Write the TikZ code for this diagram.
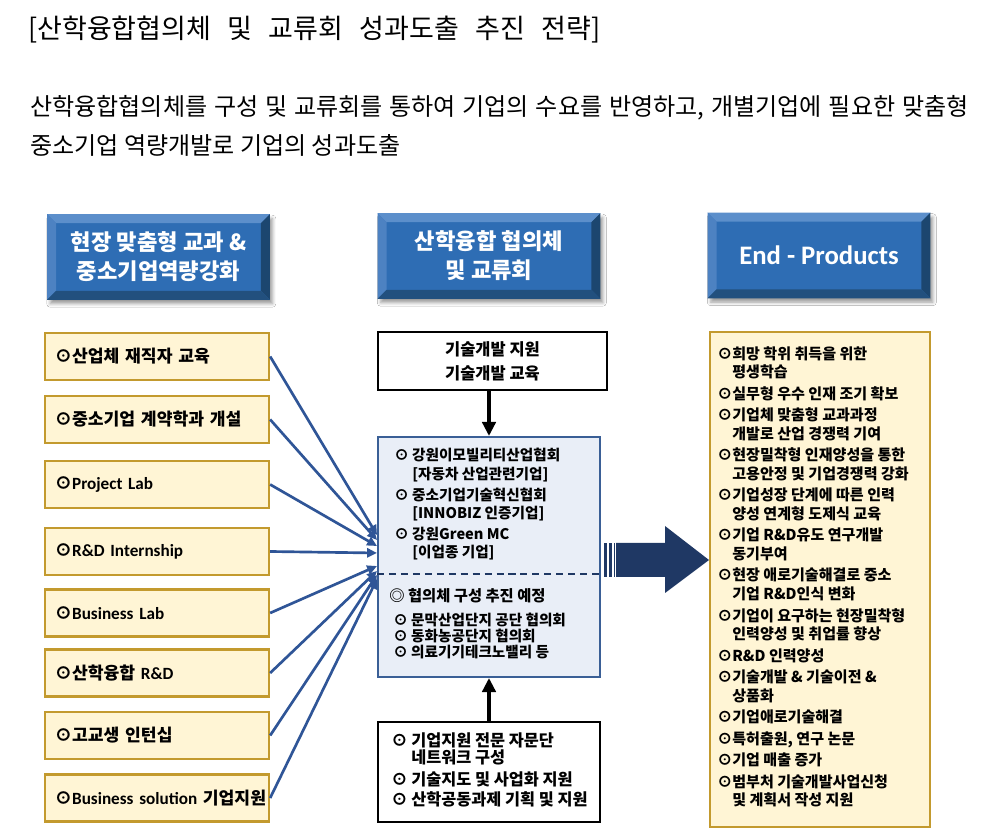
\documentclass[tikz,border=0pt]{standalone}
\usepackage{fontspec}
\setmainfont{Noto Sans CJK KR}
\newfontfamily\latfont{Carlito}[BoldFont={Carlito Bold}]
\usetikzlibrary{arrows.meta,positioning,calc,shadows.blur}
\definecolor{hdFace}{HTML}{2E6DB4}
\definecolor{hdTop}{HTML}{5C8FCB}
\definecolor{hdLeft}{HTML}{4D82C2}
\definecolor{hdRight}{HTML}{1C466F}
\definecolor{hdBottom}{HTML}{22507E}
\definecolor{itemFill}{HTML}{FFF5D5}
\definecolor{itemLine}{HTML}{C39A2E}
\definecolor{linkBlue}{HTML}{2F5597}
\definecolor{hubFill}{HTML}{E9EEF7}
\definecolor{hubLine}{HTML}{3A5F96}
\definecolor{bigArrow}{HTML}{1F3864}
\newcommand{\headbevel}[1]{%
  \fill[hdTop] (#1.north west) -- (#1.north east) -- ([shift={(-9,9)}]#1.north east) -- ([shift={(9,9)}]#1.north west) -- cycle;
  \fill[hdLeft] (#1.north west) -- ([shift={(9,9)}]#1.north west) -- ([shift={(9,-9)}]#1.south west) -- (#1.south west) -- cycle;
  \fill[hdRight] (#1.north east) -- (#1.south east) -- ([shift={(-9,-9)}]#1.south east) -- ([shift={(-9,9)}]#1.north east) -- cycle;
  \fill[hdBottom] (#1.south west) -- ([shift={(9,-9)}]#1.south west) -- ([shift={(-9,-9)}]#1.south east) -- (#1.south east) -- cycle;}
\newcommand{\lat}[1]{{\latfont\bfseries #1}}

\begin{document}
\begin{tikzpicture}[x=0.025cm,y=-0.025cm,
  headbox/.style={fill=hdFace,minimum width=5.55cm,minimum height=2.125cm,inner sep=0pt,text=white,align=center,
    font=\bfseries\fontsize{15.8}{20.5}\selectfont,
    blur shadow={shadow xshift=2pt,shadow yshift=-3pt,shadow blur radius=2.5pt}},
  skillbox/.style={draw=itemLine,line width=1.6pt,fill=itemFill,minimum width=5.6cm,minimum height=1.175cm,
    text width=5.1cm,inner xsep=0.25cm,align=left,font=\bfseries\fontsize{12.2}{14}\selectfont},
  link/.style={draw=linkBlue,line width=1.9pt,-{Triangle[length=7pt,width=6.5pt]}},
  feed/.style={line width=2.6pt,-{Triangle[length=10pt,width=9.5pt]}},
  plainbox/.style={draw=black,line width=1.2pt,fill=white},
  hubtext/.style={anchor=north west,inner sep=0pt,align=left,font=\bfseries\fontsize{10.4}{13}\selectfont}]

\fill[white] (0,0) rectangle (982,839);
\useasboundingbox (0,0) rectangle (982,839);

\node[anchor=west,inner sep=0pt,font=\fontsize{19.2}{22}\selectfont] (title) at (28,30)
  {\makebox[14.3cm][s]{[산학융합협의체 및 교류회 성과도출 추진 전략]}};
\node[anchor=west,inner sep=0pt,font=\fontsize{17.1}{20}\selectfont] (introA) at (30,108)
  {\makebox[23.45cm][s]{산학융합협의체를 구성 및 교류회를 통하여 기업의 수요를 반영하고, 개별기업에 필요한 맞춤형}};
\node[anchor=west,inner sep=0pt,font=\fontsize{17.1}{20}\selectfont] (introB) at (30,145)
  {중소기업 역량개발로 기업의 성과도출};

\node[headbox] (headSkill) at (158.5,257) {현장 맞춤형 교과 \&\\중소기업역량강화};
\headbevel{headSkill}
\node[headbox] (headHub) at (489,256) {산학융합 협의체\\및 교류회};
\headbevel{headHub}
\node[headbox,font=\latfont\bfseries\fontsize{19}{22}\selectfont] (headOut) at (819,255.5) {End - Products};
\headbevel{headOut}

\node[skillbox] (skill1) at (157,356.5) {⊙산업체 재직자 교육};
\node[skillbox] (skill2) at (157,419.5) {⊙중소기업 계약학과 개설};
\node[skillbox] (skill3) at (157,484.5) {⊙\lat{Project Lab}};
\node[skillbox] (skill4) at (157,551.5) {⊙\lat{R\&D Internship}};
\node[skillbox] (skill5) at (157,613) {⊙\lat{Business Lab}};
\node[skillbox] (skill6) at (157,673) {⊙산학융합 \lat{R\&D}};
\node[skillbox] (skill7) at (157,735.5) {⊙고교생 인턴십};
\node[skillbox] (skill8) at (157,798) {\mbox{⊙\lat{Business solution} 기업지원}};

\node[plainbox,minimum width=5.725cm,minimum height=1.45cm,align=center,
  font=\bfseries\fontsize{11.7}{17}\selectfont] (tech) at (492.5,361) {기술개발 지원\\기술개발 교육};
\node[draw=hubLine,fill=hubFill,line width=1.4pt,minimum width=5.55cm,minimum height=6cm] (hub) at (489,557) {};
\node[plainbox,minimum width=5.55cm,minimum height=2.5cm] (adv) at (489,772) {};

\coordinate (cut) at (489,574);
\draw[draw=bigArrow,line width=1.3pt,dash pattern=on 5pt off 3.5pt] (hub.west |- cut) -- (hub.east |- cut);

\node[hubtext] (hubA) at (394,448) {⊙ 강원이모빌리티산업협회\\
  \phantom{⊙ }[자동차 산업관련기업]\\[2pt]
  ⊙ 중소기업기술혁신협회\\
  \phantom{⊙ }[INNOBIZ 인증기업]\\[2pt]
  ⊙ 강원Green MC\\
  \phantom{⊙ }[이업종 기업]};
\node[hubtext,font=\bfseries\fontsize{10.9}{13}\selectfont] (hubB) at (389,588) {◎ 협의체 구성 추진 예정};
\node[hubtext,font=\bfseries\fontsize{10.4}{11.4}\selectfont] (hubC) at (393,613) {⊙ 문막산업단지 공단 협의회\\
  ⊙ 동화농공단지 협의회\\
  ⊙ 의료기기테크노밸리 등};
\node[hubtext,font=\bfseries\fontsize{11.6}{12.3}\selectfont] (advText) at (391,732) {⊙ 기업지원 전문 자문단\\
  \phantom{⊙ }네트워크 구성\\[3.6pt]
  ⊙ 기술지도 및 사업화 지원\\[2pt]
  ⊙ 산학공동과제 기획 및 지원};

\draw[feed] (tech.south -| hub.north) -- (hub.north);
\draw[feed] (adv.north) -- (hub.south);

\coordinate (in1) at (377,535);
\coordinate (in2) at (377,540);
\coordinate (in3) at (377,546);
\coordinate (in4) at (377,553);
\coordinate (in5) at (377,566);
\coordinate (in6) at (377,571);
\coordinate (in7) at (377,575);
\coordinate (in8) at (377,579);
\draw[link] (skill1.east) -- (in1);
\draw[link] (skill2.east) -- (in2);
\draw[link] (skill3.east) -- (in3);
\draw[link] (skill4.east) -- (in4);
\draw[link] (skill5.east) -- (in5);
\draw[link] (skill6.east) -- (in6);
\draw[link] (skill7.east) -- (in7);
\draw[link] (skill8.east) -- (in8);

\node[draw=itemLine,fill=itemFill,line width=1.6pt,minimum width=5.5cm,minimum height=12.375cm] (out) at (820,579.5) {};
\node[hubtext,font=\bfseries\fontsize{10.7}{13.2}\selectfont] (outText) at (717,346) {⊙희망 학위 취득을 위한\\
  \phantom{⊙}평생학습\\[2.1pt]
  ⊙실무형 우수 인재 조기 확보\\[2.1pt]
  ⊙기업체 맞춤형 교과과정\\
  \phantom{⊙}개발로 산업 경쟁력 기여\\[2.1pt]
  ⊙현장밀착형 인재양성을 통한\\
  \phantom{⊙}고용안정 및 기업경쟁력 강화\\[2.1pt]
  ⊙기업성장 단계에 따른 인력\\
  \phantom{⊙}양성 연계형 도제식 교육\\[2.1pt]
  ⊙기업 R\&D유도 연구개발\\
  \phantom{⊙}동기부여\\[2.1pt]
  ⊙현장 애로기술해결로 중소\\
  \phantom{⊙}기업 R\&D인식 변화\\[2.1pt]
  ⊙기업이 요구하는 현장밀착형\\
  \phantom{⊙}인력양성 및 취업률 향상\\[2.1pt]
  ⊙R\&D 인력양성\\[2.1pt]
  ⊙기술개발 \& 기술이전 \&\\
  \phantom{⊙}상품화\\[2.1pt]
  ⊙기업애로기술해결\\[2.1pt]
  ⊙특허출원, 연구 논문\\[2.1pt]
  ⊙기업 매출 증가\\[2.1pt]
  ⊙범부처 기술개발사업신청\\
  \phantom{⊙}및 계획서 작성 지원};

\begin{scope}[shift={(hub.east)},yshift=-3*0.025cm]
  \fill[bigArrow] (15,-17) -- (64,-17) -- (64,-34) -- (108,0) -- (64,33) -- (64,17) -- (15,17) -- cycle;
  \fill[bigArrow] (3,-17) rectangle (5.5,17);
  \fill[bigArrow] (8,-17) rectangle (10.5,17);
  \fill[bigArrow] (12.5,-17) rectangle (14,17);
\end{scope}
\end{tikzpicture}
\end{document}
